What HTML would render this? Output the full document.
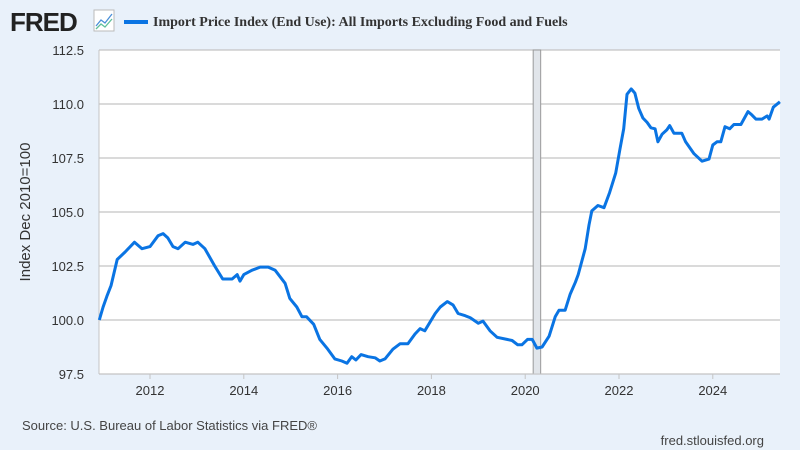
<!DOCTYPE html>
<html><head><meta charset="utf-8"><style>
body{margin:0;background:#e9f1fa;}
#wrap{position:relative;width:800px;height:450px;background:#e9f1fa;overflow:hidden;font-family:"Liberation Sans",sans-serif;}
</style></head><body>
<div id="wrap">
<svg id="chart" width="800" height="450">
  <text x="10" y="31" font-family="Liberation Sans" font-weight="bold" font-size="26" fill="#222" letter-spacing="-1">FRED</text>
  <g>
    <rect x="94" y="10" width="20" height="21" fill="#fff" stroke="#bbb"/>
    <polyline points="96,26 101,20 105,23 112,14" fill="none" stroke="#4a8fd8" stroke-width="1.3"/>
    <polyline points="96,29 101,24 105,27 112,19" fill="none" stroke="#5fbf9a" stroke-width="1.3"/>
  </g>
  <line x1="124" y1="22" x2="148" y2="22" stroke="#0a74e3" stroke-width="4"/>
  <text x="153" y="26" font-family="Liberation Serif" font-weight="bold" font-size="14" fill="#333">Import Price Index (End Use): All Imports Excluding Food and Fuels</text>
  <rect x="99" y="50" width="681" height="324" fill="#fff"/>
  <g id="grid"></g>
  <g id="rec"></g>
  <g id="series"></g>
  <g id="xax"></g>
  <text transform="translate(30,212) rotate(-90)" text-anchor="middle" font-size="15" fill="#333">Index Dec 2010=100</text>
  <text x="22" y="430" font-size="13" fill="#444">Source: U.S. Bureau of Labor Statistics via FRED®</text>
  <text x="764" y="445" text-anchor="end" font-size="13" fill="#444">fred.stlouisfed.org</text>
</svg>
</div>
<script>
const yTicks=[97.5,100.0,102.5,105.0,107.5,110.0,112.5];
const xTicks=[2012,2014,2016,2018,2020,2022,2024];
const recession=[2020.17,2020.33];
const dates=[2010.92,2011.0,2011.08,2011.17,2011.3,2011.47,2011.67,2011.83,2012.0,2012.17,2012.28,2012.38,2012.49,2012.6,2012.75,2012.92,2013.02,2013.17,2013.38,2013.55,2013.75,2013.86,2013.92,2014.0,2014.17,2014.35,2014.52,2014.67,2014.88,2014.98,2015.13,2015.24,2015.34,2015.49,2015.62,2015.79,2015.94,2016.09,2016.2,2016.3,2016.39,2016.5,2016.65,2016.8,2016.9,2017.01,2017.18,2017.33,2017.5,2017.65,2017.76,2017.86,2018.08,2018.19,2018.34,2018.46,2018.57,2018.72,2018.83,2019.0,2019.1,2019.25,2019.4,2019.61,2019.72,2019.84,2019.93,2020.05,2020.15,2020.25,2020.36,2020.51,2020.64,2020.72,2020.85,2020.96,2021.07,2021.13,2021.28,2021.36,2021.42,2021.55,2021.68,2021.8,2021.93,2022.02,2022.1,2022.17,2022.26,2022.34,2022.42,2022.51,2022.6,2022.68,2022.77,2022.83,2022.92,2023.02,2023.08,2023.17,2023.34,2023.42,2023.6,2023.77,2023.92,2024.0,2024.09,2024.17,2024.26,2024.36,2024.45,2024.6,2024.75,2024.83,2024.92,2025.05,2025.16,2025.2,2025.29,2025.43];
const values=[100.0,100.6,101.1,101.6,102.8,103.15,103.6,103.3,103.4,103.9,104.0,103.8,103.4,103.3,103.6,103.5,103.6,103.3,102.5,101.9,101.9,102.1,101.8,102.1,102.3,102.45,102.45,102.3,101.7,101.0,100.6,100.15,100.15,99.8,99.1,98.65,98.2,98.1,98.0,98.3,98.15,98.4,98.3,98.25,98.1,98.2,98.65,98.9,98.9,99.35,99.6,99.5,100.3,100.6,100.85,100.7,100.3,100.2,100.1,99.85,99.95,99.5,99.2,99.1,99.05,98.85,98.85,99.1,99.1,98.7,98.75,99.25,100.15,100.45,100.45,101.2,101.75,102.1,103.3,104.4,105.05,105.3,105.2,105.9,106.8,107.9,108.85,110.45,110.7,110.5,109.8,109.35,109.15,108.9,108.85,108.25,108.6,108.8,109.0,108.65,108.65,108.25,107.7,107.35,107.45,108.1,108.25,108.25,108.95,108.85,109.05,109.05,109.65,109.5,109.3,109.3,109.45,109.3,109.85,110.1];
const NS="http://www.w3.org/2000/svg";
const L=99,R=780,T=50,B=374;
function xs(t){return 150+(t-2012)*46.9;}
function ys(v){return B-(v-97.5)/15*(B-T);}
const grid=document.getElementById('grid');
yTicks.forEach(v=>{
  const ln=document.createElementNS(NS,'line');
  ln.setAttribute('x1',L);ln.setAttribute('x2',R);ln.setAttribute('y1',ys(v));ln.setAttribute('y2',ys(v));
  ln.setAttribute('stroke','#c4c4c4');ln.setAttribute('stroke-width','1.3');
  
  
  grid.appendChild(ln);
  const tx=document.createElementNS(NS,'text');
  tx.setAttribute('x',84);tx.setAttribute('y',ys(v)+5);tx.setAttribute('text-anchor','end');
  tx.setAttribute('font-size','13');tx.setAttribute('fill','#333');
  tx.textContent=v.toFixed(1);
  
  
  grid.appendChild(tx);
});
const la=document.createElementNS(NS,'line');
la.setAttribute('x1',L);la.setAttribute('x2',L);la.setAttribute('y1',T);la.setAttribute('y2',B);la.setAttribute('stroke','#c4c4c4');


grid.appendChild(la);
const rec=document.getElementById('rec');
const rr=document.createElementNS(NS,'rect');
rr.setAttribute('x',xs(recession[0]));rr.setAttribute('y',T);rr.setAttribute('width',xs(recession[1])-xs(recession[0]));rr.setAttribute('height',B-T);
rr.setAttribute('fill','#e1e5ea');rr.setAttribute('stroke','#999');rr.setAttribute('stroke-width','1');


rec.appendChild(rr);
const xax=document.getElementById('xax');
xTicks.forEach(t=>{
  const ln=document.createElementNS(NS,'line');
  ln.setAttribute('x1',xs(t));ln.setAttribute('x2',xs(t));ln.setAttribute('y1',B);ln.setAttribute('y2',B+5);ln.setAttribute('stroke','#c4c4c4');
  
  
  xax.appendChild(ln);
  const tx=document.createElementNS(NS,'text');
  tx.setAttribute('x',xs(t));tx.setAttribute('y',395);tx.setAttribute('text-anchor','middle');
  tx.setAttribute('font-size','13');tx.setAttribute('fill','#333');
  tx.textContent=t;
  
  
  xax.appendChild(tx);
});
const bl=document.createElementNS(NS,'line');
bl.setAttribute('x1',L);bl.setAttribute('x2',R);bl.setAttribute('y1',B);bl.setAttribute('y2',B);bl.setAttribute('stroke','#c4c4c4');


xax.appendChild(bl);
const p=document.createElementNS(NS,'polyline');
p.setAttribute('points',dates.map((d,i)=>xs(d).toFixed(1)+','+ys(values[i]).toFixed(1)).join(' '));
p.setAttribute('fill','none');p.setAttribute('stroke','#0a74e3');p.setAttribute('stroke-width','3');p.setAttribute('stroke-linejoin','round');


document.getElementById('series').appendChild(p);
</script>
</body></html>
